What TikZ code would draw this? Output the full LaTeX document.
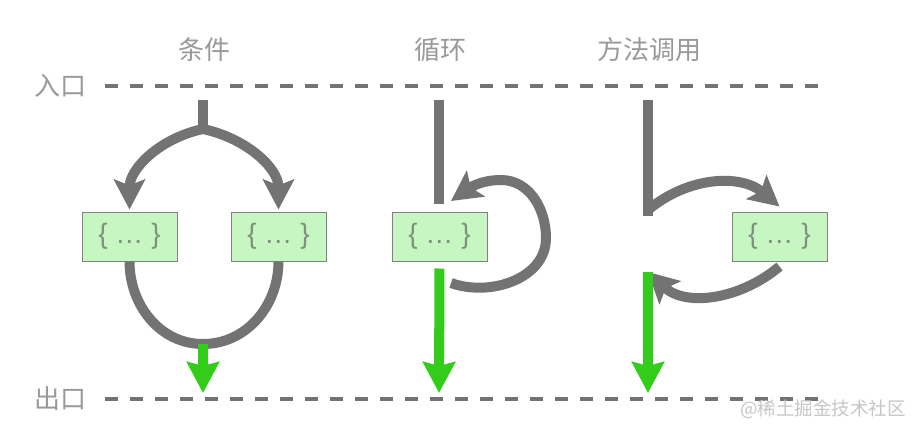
\documentclass[tikz,border=0pt]{standalone}
\usepackage{fontspec}
\setmainfont{Noto Sans CJK SC}
\newfontfamily\codefont{Liberation Sans}
\usetikzlibrary{arrows.meta}
\definecolor{flowgray}{HTML}{737373}
\definecolor{exitgreen}{HTML}{33CC1A}
\definecolor{blockfill}{HTML}{C6F7C2}
\definecolor{labelgray}{HTML}{999999}
\definecolor{codegray}{HTML}{809080}

\begin{document}
\begin{tikzpicture}[x=1pt, y=1pt,
	flowline/.style={line width=10pt, flowgray},
	flowtip/.style={flowline, -{Stealth[length=30pt, width=31pt, inset=6pt]}},
	exitline/.style={line width=10pt, exitgreen, -{Stealth[length=31pt, width=32pt, inset=4pt]}},
	bound/.style={line width=4pt, flowgray, dash pattern=on 13pt off 12pt},
	block/.style={draw=flowgray!90, line width=1pt, fill=blockfill, minimum width=95pt, minimum height=49pt, inner sep=0pt, text=codegray, font=\codefont\fontsize{28}{30}\selectfont},
	title/.style={text=labelgray, font=\fontsize{26}{28}\selectfont},
	]
	\useasboundingbox (0,0) rectangle (918,-434);
	% entry and exit lines
	\node[title] (entry) at (60,-86) {入口};
	\node[title] (exit) at (60,-399) {出口};
	\coordinate (entry-l) at (105,-86);
	\coordinate (entry-r) at (820,-86);
	\coordinate (exit-l) at (105,-399);
	\coordinate (exit-r) at (820,-399);
	\draw[bound] (entry-l) -- (entry-r);
	\draw[bound] (exit-l) -- (exit-r);
	\node[title] (cond) at (204,-50) {条件};
	\node[title] (loop) at (440,-50) {循环};
	\node[title] (call) at (649,-50) {方法调用};

	% condition
	\coordinate (c-top) at (203,-100);
	\coordinate (c-fork) at (203,-129);
	\node[block] (c-left) at (129.5,-236.5) {\{ … \}};
	\node[block] (c-right) at (278.5,-236.5) {\{ … \}};
	\coordinate (c-join) at (203,-344);
	\coordinate (c-end) at (203,-393);
	\draw[flowline] (c-top) -- (c-fork);
	\draw[flowtip, shorten >=2pt] (c-fork) to[out=192, in=90] (c-left.north);
	\draw[flowtip, shorten >=2pt] (c-fork) to[out=-12, in=90] (c-right.north);
	\draw[flowline] (c-left.south) to[out=-90, in=180] (c-join);
	\draw[flowline] (c-right.south) to[out=-90, in=0] (c-join);
	\draw[exitline] (c-join) -- (c-end);

	% loop
	\coordinate (l-top) at (439,-100);
	\coordinate (l-in) at (439,-204);
	\node[block] (l-box) at (439.5,-236.5) {\{ … \}};
	\coordinate (l-back) at (451,-283);
	\coordinate (l-far) at (546,-238);
	\coordinate (l-peak) at (501,-180);
	\coordinate (l-tip) at (451,-201);
	\coordinate (l-end) at (439,-393);
	\draw[flowline] (l-top) -- (l-in);
	\draw[flowtip] (l-back) to[out=-20, in=-90] (l-far) to[out=90, in=0] (l-peak) to[out=180, in=35] (l-tip);
	\draw[exitline, shorten <=7pt] (l-box.south) -- (l-end);

	% method call
	\coordinate (m-top) at (648,-100);
	\coordinate (m-turn) at (648,-216);
	\node[block] (m-box) at (779.5,-236.5) {\{ … \}};
	\coordinate (m-back) at (648,-272);
	\coordinate (m-end) at (648,-393);
	\draw[flowline] (m-top) -- (m-turn);
	\draw[flowtip] ([yshift=6pt]m-turn) to[out=40, in=140] ([yshift=5pt]m-box.north);
	\draw[flowtip] ([yshift=-5pt]m-box.south) to[out=-140, in=-43] (m-back);
	\draw[exitline] (m-back) -- (m-end);

	\node[text=gray!45, font=\fontsize{18.5}{20}\selectfont] (mark) at (823,-409) {@稀土掘金技术社区};
\end{tikzpicture}
\end{document}
